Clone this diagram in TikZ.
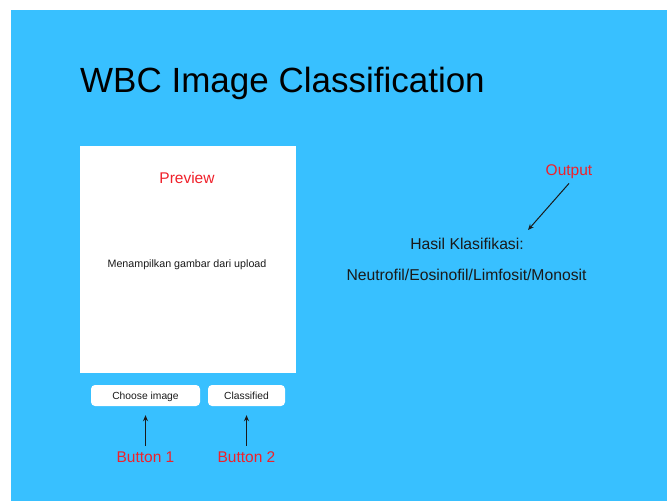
\documentclass[tikz,border=0pt]{standalone}
\usepackage{fontspec}
\setmainfont{Liberation Sans}
\usetikzlibrary{positioning,arrows.meta,calc}
\definecolor{skyback}{HTML}{38C0FF}
\definecolor{labelred}{HTML}{F0202A}
\definecolor{inktext}{HTML}{1A1A1A}
\tikzset{
    panel/.style={rectangle, fill=white, minimum width=216pt, minimum height=227pt, inner sep=0pt},
    button/.style={rectangle, fill=white, rounded corners=4pt, minimum height=21pt, inner sep=0pt, text height=8pt, text depth=1pt, font=\fontsize{10.3}{12}\selectfont, text=inktext},
    redlabel/.style={text=labelred, inner sep=0pt, anchor=base, font=\fontsize{15.5}{18}\selectfont},
    result/.style={text=inktext, inner sep=0pt, anchor=base, font=\fontsize{15.7}{18}\selectfont},
    pointer/.style={draw=inktext, -{Stealth[length=6pt, width=5pt]}, line width=1pt}
}
\begin{document}
\begin{tikzpicture}[x=1pt, y=-1pt]
    \useasboundingbox (0,0) rectangle (667,501);
    \fill[white] (0,0) rectangle (667,501);
    \fill[skyback] (11,10) rectangle (667,501);

    \node [anchor=base west, inner sep=0pt, font=\fontsize{35}{40}\selectfont] (title) at (80,92) {WBC Image Classification};

    % preview panel
    \node [panel] (preview) at (188,259.5) {};
    \node [redlabel] (previewlbl) at (187,183) {Preview};
    \node [anchor=base, inner sep=0pt, text=inktext, font=\fontsize{10.7}{12}\selectfont] (uploadtxt) at (187,267.3) {Menampilkan gambar dari upload};

    % buttons
    \node [button, minimum width=109pt] (choose) at (145.5,395.5) {Choose image};
    \node [button, minimum width=77pt] (classify) at (246.5,395.5) {Classified};
    \node [redlabel] (btnone) at (145.5,462) {Button 1};
    \node [redlabel] (btntwo) at (246.5,462) {Button 2};

    % output side
    \node [redlabel] (output) at (569,175) {Output};
    \coordinate (outtip) at (528,230);
    \node [result] (hasil) at (467,249.3) {Hasil Klasifikasi:};
    \node [result] (classes) at (466.5,280) {Neutrofil/Eosinofil/Limfosit/Monosit};

    \path [pointer, shorten <=5pt, shorten >=9pt] (btnone.north) -- (choose.south);
    \path [pointer, shorten <=5pt, shorten >=9pt] (btntwo.north) -- (classify.south);
    \path [pointer] ($(output.south)+(0,5)$) -- (outtip);
\end{tikzpicture}
\end{document}
